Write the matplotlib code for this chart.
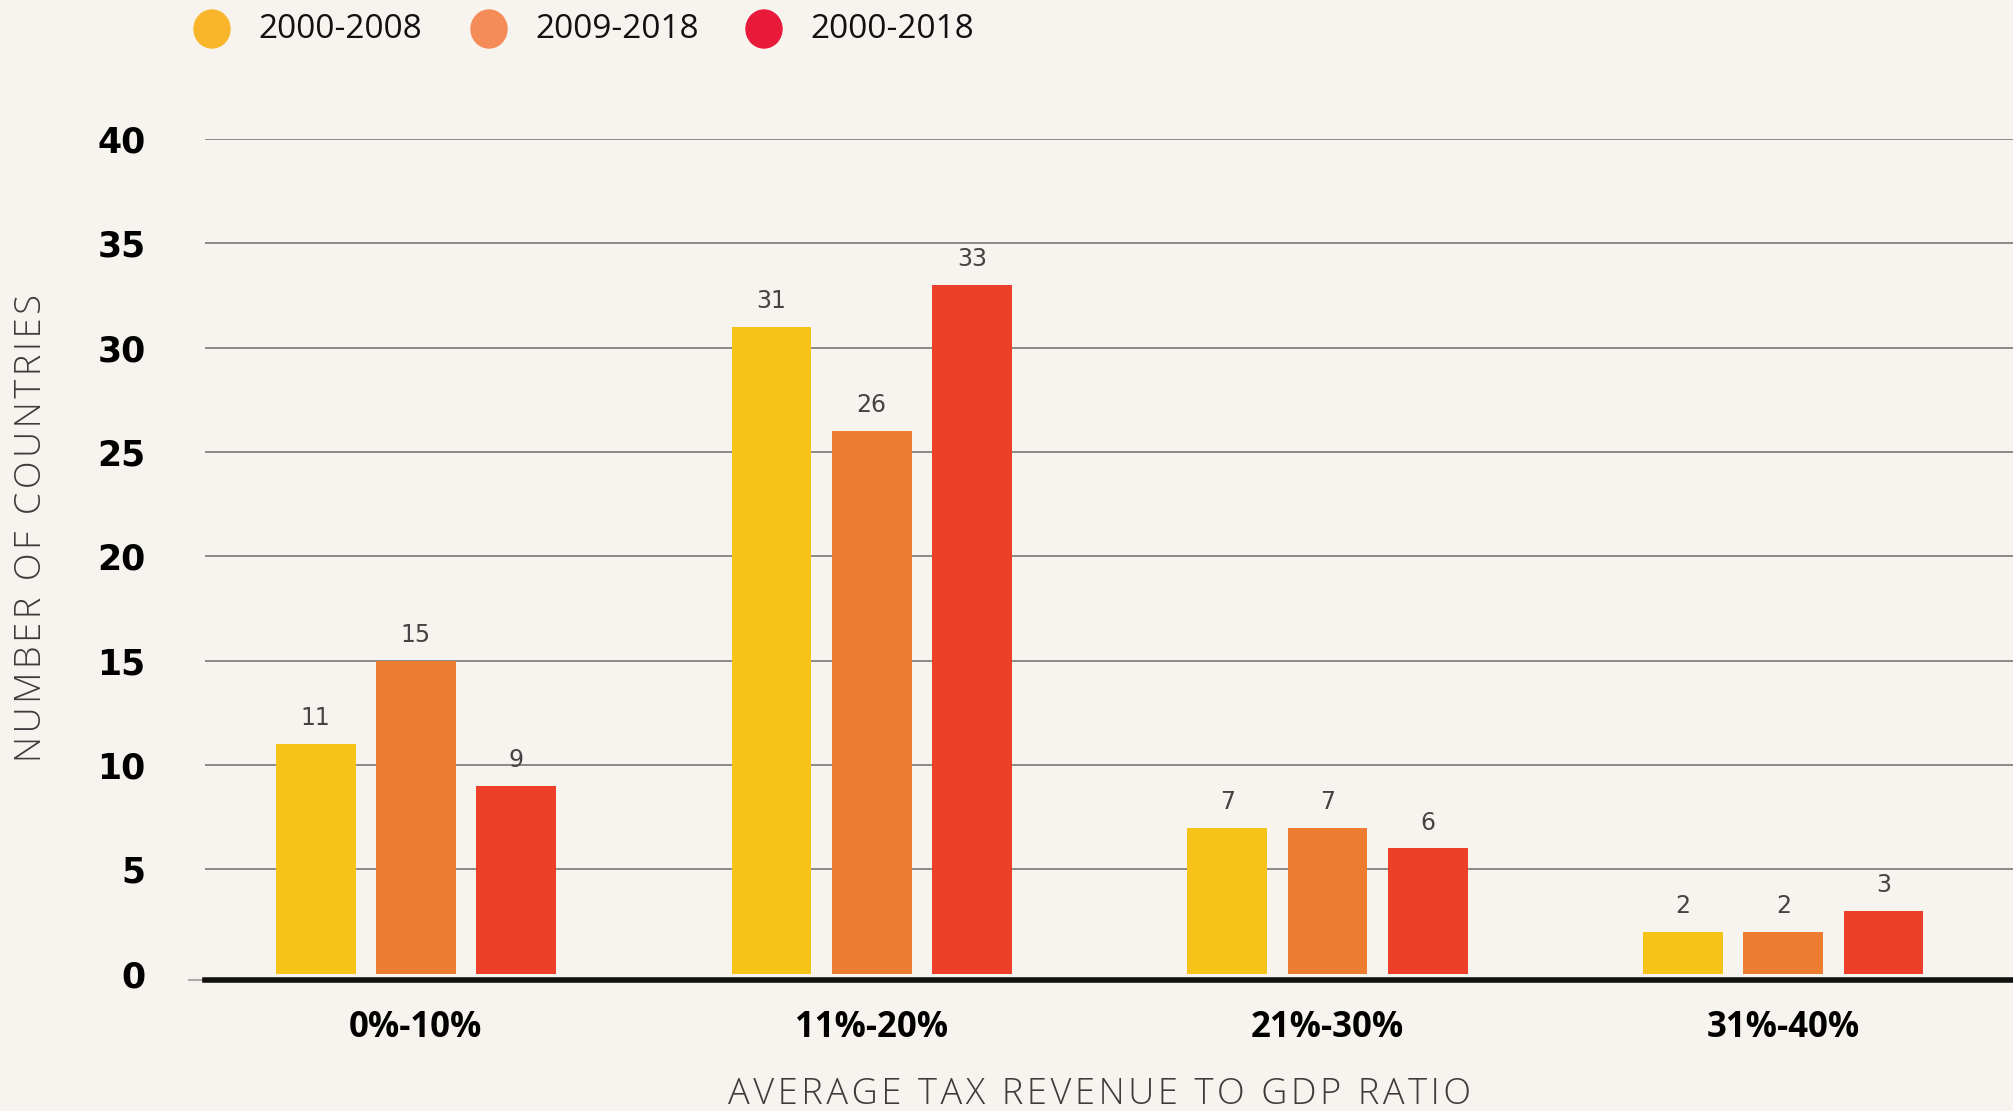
import matplotlib
matplotlib.use("Agg")
import matplotlib.pyplot as plt
import numpy as np

categories = ["0%-10%", "11%-20%", "21%-30%", "31%-40%"]
series_names = ["2000-2008", "2009-2018", "2000-2018"]
s_2000_2008 = [11, 31, 7, 2]
s_2009_2018 = [15, 26, 7, 2]
s_2000_2018 = [9, 33, 6, 3]
y_ticks = [0, 5, 10, 15, 20, 25, 30, 35, 40]
y_title = "NUMBER OF COUNTRIES"
x_title = "AVERAGE TAX REVENUE TO GDP RATIO"

bar_colors = ["#F7C318", "#EC7C30", "#EE4029"]
legend_colors = ["#F9B62B", "#F58B57", "#E91A3A"]
bg = "#F7F4EF"


def spaced(s):
    return "\u200a".join(s)


fig = plt.figure(figsize=(20.13, 11.11), dpi=100, facecolor=bg)
ax = fig.add_axes([0.102, 0.118, 0.898, 0.757], facecolor=bg)

x = np.arange(len(categories))
pitch = 0.22
width = 0.175
for i, (vals, c) in enumerate(zip([s_2000_2008, s_2009_2018, s_2000_2018], bar_colors)):
    xs = x + (i - 1) * pitch
    ax.bar(xs, vals, width=width, color=c, zorder=3)
    for xi, v in zip(xs, vals):
        ax.annotate(str(v), (xi, v), xytext=(0, 10), textcoords="offset points",
                    ha="center", va="bottom", fontsize=17, color="#444444",
                    family=["Liberation Sans Narrow", "DejaVu Sans"])

ax.set_xlim(-0.462, 3.504)
ax.set_ylim(-0.3, 40)
ax.set_yticks(y_ticks)
ax.set_yticklabels([str(t) for t in y_ticks], fontsize=25, fontweight="bold",
                   family="DejaVu Sans")
ax.set_xticks(x)
ax.set_xticklabels(categories, fontsize=25, fontweight="bold", family="Open Sans")
ax.tick_params(axis="y", length=0, pad=43)
ax.tick_params(axis="x", length=0, pad=22)
for t in y_ticks[1:]:
    ax.axhline(t, color="#8a8a8a", linewidth=1.4, zorder=1)
for s in ["top", "right", "left"]:
    ax.spines[s].set_visible(False)
ax.spines["bottom"].set_linewidth(4)
ax.spines["bottom"].set_color("#111111")
ax.axhline(-0.3, xmin=-0.009, xmax=0, color="#aaaaaa", linewidth=1.5, clip_on=False)

fig.text(32 / 2013, 1 - 528 / 1111, spaced(y_title), rotation=90,
         ha="center", va="center", fontsize=26, color="#3c3c3c",
         family=["Open Sans", "DejaVu Sans"], fontweight="light")
fig.text(1099 / 2013, 1 - 1094 / 1111, spaced(x_title),
         ha="center", va="center", fontsize=26, color="#3c3c3c",
         family=["Open Sans", "DejaVu Sans"], fontweight="light")

# legend
leg_x = [212, 489, 764]
for lx, name, c in zip(leg_x, series_names, legend_colors):
    fig.add_artist(matplotlib.patches.Ellipse((lx / 2013, 1 - 29 / 1111), 36 / 2013, 38 / 1111,
                                              color=c, transform=fig.transFigure))
    fig.text((lx + 46) / 2013, 1 - 29 / 1111, name, fontsize=24, va="center", ha="left",
             color="#111111", family="Open Sans")

fig.savefig("out.png", dpi=100, facecolor=bg)
